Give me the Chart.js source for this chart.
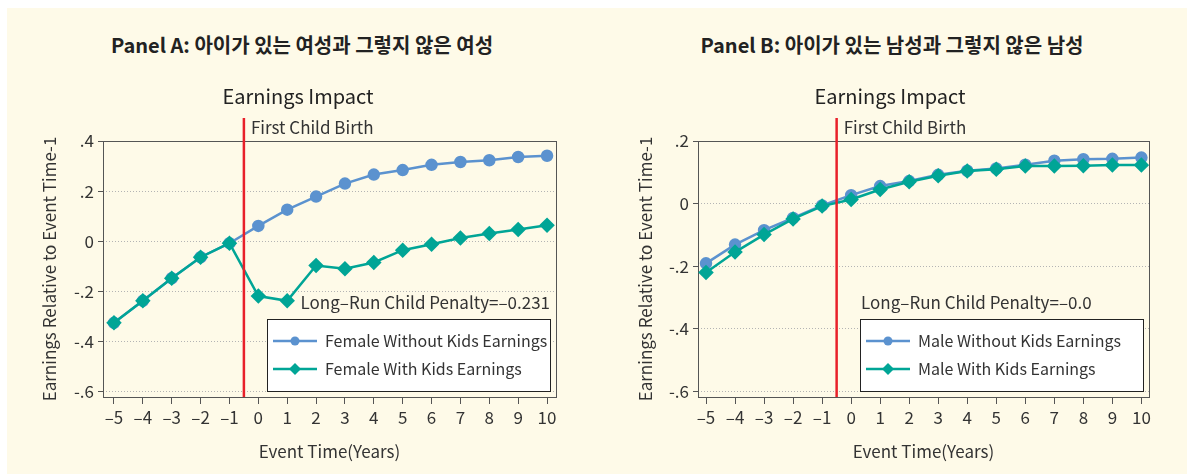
<!DOCTYPE html>
<html>
<head>
<meta charset="utf-8">
<script src="https://cdn.jsdelivr.net/npm/chart.js@4/dist/chart.umd.min.js"></script>
<style>
  body { margin: 0; background: #fff; }
  #page { position: relative; width: 1192px; height: 474px; overflow: hidden; }
  #cream { position: absolute; left: 7px; top: 8px; width: 1180px; height: 466px; background: #fefae8; }
  .ptitle { position: absolute; top: 30px; width: 596px; text-align: center;
    font: bold 20px "Noto Sans CJK KR", sans-serif; color: #222; }
  canvas { position: absolute; top: 0; }
</style>
</head>
<body>
<div id="page">
  <div id="cream"></div>
  <div class="ptitle" style="left:4px">Panel A: 아이가 있는 여성과 그렇지 않은 여성</div>
  <div class="ptitle" style="left:594px">Panel B: 아이가 있는 남성과 그렇지 않은 남성</div>
  <div style="position:absolute;left:0;top:0;width:596px;height:474px"><canvas id="chartA"></canvas></div>
  <div style="position:absolute;left:596px;top:0;width:596px;height:474px"><canvas id="chartB"></canvas></div>
</div>
<script>
var FONT = '"Noto Sans CJK KR", sans-serif';
var BLUE = '#5b92cf';
var TEAL = '#00a596';
var RED = '#e8202a';

var years = [-5, -4, -3, -2, -1, 0, 1, 2, 3, 4, 5, 6, 7, 8, 9, 10];
var xTickLabels = ['–5', '–4', '–3', '–2', '–1', '0', '1', '2', '3', '4', '5', '6', '7', '8', '9', '10'];

// Panel A (female)
var femaleWithout = [-0.326, -0.238, -0.148, -0.064, -0.008, 0.061, 0.126, 0.178, 0.230, 0.266, 0.284, 0.305, 0.316, 0.323, 0.336, 0.341];
var femaleWith = [-0.326, -0.238, -0.148, -0.064, -0.008, -0.219, -0.238, -0.097, -0.110, -0.085, -0.036, -0.012, 0.013, 0.031, 0.047, 0.064];
var yTicksA = [0.4, 0.2, 0, -0.2, -0.4, -0.6];
var yTickLabelsA = ['.4', '.2', '0', '-.2', '-.4', '-.6'];

// Panel B (male)
var maleWithout = [-0.191, -0.131, -0.085, -0.046, -0.006, 0.027, 0.056, 0.072, 0.092, 0.105, 0.112, 0.124, 0.137, 0.142, 0.143, 0.147];
var maleWith = [-0.220, -0.155, -0.099, -0.049, -0.008, 0.013, 0.045, 0.070, 0.089, 0.104, 0.110, 0.120, 0.120, 0.121, 0.123, 0.123];
var yTicksB = [0.2, 0, -0.2, -0.4, -0.6];
var yTickLabelsB = ['.2', '0', '-.2', '-.4', '-.6'];

function pts(vals) {
  return years.map(function(x, i) { return {x: x, y: vals[i]}; });
}

var decoPlugin = {
  id: 'deco',
  beforeDatasetsDraw: function(chart, args, o) {
    var ctx = chart.ctx, a = chart.chartArea;
    ctx.save();
    ctx.strokeStyle = '#555';
    ctx.lineWidth = 1;
    ctx.strokeRect(Math.round(a.left) + 0.5, Math.round(a.top) + 0.5, a.right - a.left, a.bottom - a.top);
    ctx.restore();
  },
  afterDatasetsDraw: function(chart, args, o) {
    var ctx = chart.ctx, a = chart.chartArea;
    var xs = chart.scales.x;
    ctx.save();
    // title
    ctx.fillStyle = '#222';
    ctx.font = '20px ' + FONT;
    ctx.textAlign = 'center';
    ctx.textBaseline = 'middle';
    ctx.fillText('Earnings Impact', o.titleX, 96);
    // birth line
    var rx = xs.getPixelForValue(-0.5);
    ctx.strokeStyle = RED;
    ctx.lineWidth = 2.5;
    ctx.beginPath();
    ctx.moveTo(rx, 118);
    ctx.lineTo(rx, a.bottom);
    ctx.stroke();
    ctx.fillStyle = '#333';
    ctx.font = '17px ' + FONT;
    ctx.textAlign = 'left';
    ctx.fillText('First Child Birth', rx + 7, 128);
    // legend box
    var w = 283, h = 72;
    var bx = a.right - 6 - w, by = a.bottom - 6 - h;
    ctx.fillStyle = '#fff';
    ctx.fillRect(bx, by, w, h);
    ctx.strokeStyle = '#222';
    ctx.lineWidth = 1;
    ctx.strokeRect(Math.round(bx) + 0.5, Math.round(by) + 0.5, w, h);
    // penalty text
    ctx.fillStyle = '#333';
    ctx.font = '17px ' + FONT;
    if (o.penaltyAlign === 'right') {
      ctx.textAlign = 'right';
      ctx.fillText(o.penalty, bx + w, by - 16);
    } else {
      ctx.textAlign = 'left';
      ctx.fillText(o.penalty, bx + 1, by - 16);
    }
    // legend rows
    ctx.font = '16px ' + FONT;
    var ds = chart.data.datasets;
    for (var i = 0; i < 2; i++) {
      var d = ds[i];
      var cy = by + 22 + i * 28;
      ctx.strokeStyle = d.borderColor;
      ctx.lineWidth = 2.5;
      ctx.beginPath();
      ctx.moveTo(bx + 6, cy);
      ctx.lineTo(bx + 50, cy);
      ctx.stroke();
      ctx.fillStyle = d.borderColor;
      ctx.beginPath();
      if (d.pointStyle === 'rectRot') {
        ctx.moveTo(bx + 28, cy - 6);
        ctx.lineTo(bx + 34, cy);
        ctx.lineTo(bx + 28, cy + 6);
        ctx.lineTo(bx + 22, cy);
        ctx.closePath();
      } else {
        ctx.arc(bx + 28, cy, 4.5, 0, Math.PI * 2);
      }
      ctx.fill();
      ctx.fillStyle = '#333';
      ctx.textAlign = 'left';
      ctx.fillText(d.label, bx + 58, cy);
    }
    ctx.restore();
  }
};

function makeChart(id, cfg) {
  var ctx = document.getElementById(id).getContext('2d');
  return new Chart(ctx, {
    type: 'line',
    data: {
      datasets: [{
        label: cfg.labels[0],
        data: pts(cfg.without),
        borderColor: BLUE,
        backgroundColor: BLUE,
        pointStyle: 'circle',
        pointRadius: 5,
        borderWidth: 2.5,
        order: 2
      }, {
        label: cfg.labels[1],
        data: pts(cfg.withKids),
        borderColor: TEAL,
        backgroundColor: TEAL,
        pointStyle: 'rectRot',
        pointRadius: 6,
        borderWidth: 2.5,
        order: 1
      }]
    },
    options: {
      responsive: true,
      maintainAspectRatio: false,
      animation: false,
      layout: { padding: { left: 0, top: 141, right: cfg.padRight, bottom: 0 } },
      plugins: {
        legend: { display: false },
        tooltip: { enabled: false },
        deco: { titleX: cfg.titleX, penalty: cfg.penalty, penaltyAlign: cfg.penaltyAlign }
      },
      scales: {
        x: {
          type: 'linear',
          min: cfg.xMin,
          max: cfg.xMax,
          afterFit: function(s) { s.height = 77; },
          afterBuildTicks: function(s) { s.ticks = years.map(function(v) { return {value: v}; }); },
          ticks: {
            padding: 3,
            color: '#333',
            font: { family: FONT, size: 17 },
            callback: function(v) { return xTickLabels[years.indexOf(v)]; }
          },
          grid: { drawOnChartArea: false, tickLength: 7, tickColor: '#555' },
          border: { display: false },
          title: { display: true, text: 'Event Time(Years)', color: '#333',
            font: { family: FONT, size: 17 }, padding: { top: 0, bottom: 12 } }
        },
        y: {
          min: cfg.yMin,
          max: cfg.yMax,
          afterFit: function(s) { s.width = cfg.yAxisW; },
          afterBuildTicks: function(s) { s.ticks = cfg.yTicks.map(function(v) { return {value: v}; }); },
          ticks: {
            padding: 4,
            color: '#333',
            font: { family: FONT, size: 17 },
            callback: function(v) { return cfg.yTickLabels[cfg.yTicks.indexOf(v)]; }
          },
          grid: { color: '#b4b4b4', tickLength: 5, tickColor: '#555' },
          border: { display: false, dash: [1, 2] },
          title: { display: true, text: 'Earnings Relative to Event Time-1', color: '#333',
            font: { family: FONT, size: 17 }, padding: { top: 39, bottom: 0 } }
        }
      }
    },
    plugins: [decoPlugin]
  });
}

makeChart('chartA', {
  labels: ['Female Without Kids Earnings', 'Female With Kids Earnings'],
  without: femaleWithout, withKids: femaleWith,
  xMin: -5.38, xMax: 10.31, yMin: -0.622, yMax: 0.4,
  yTicks: yTicksA, yTickLabels: yTickLabelsA,
  yAxisW: 103, padRight: 40, titleX: 298,
  penalty: 'Long–Run Child Penalty=–0.231', penaltyAlign: 'right'
});

makeChart('chartB', {
  labels: ['Male Without Kids Earnings', 'Male With Kids Earnings'],
  without: maleWithout, withKids: maleWith,
  xMin: -5.276, xMax: 10.262, yMin: -0.618, yMax: 0.2,
  yTicks: yTicksB, yTickLabels: yTickLabelsB,
  yAxisW: 102, padRight: 43, titleX: 294,
  penalty: 'Long–Run Child Penalty=–0.0', penaltyAlign: 'left'
});
</script>
</body>
</html>
